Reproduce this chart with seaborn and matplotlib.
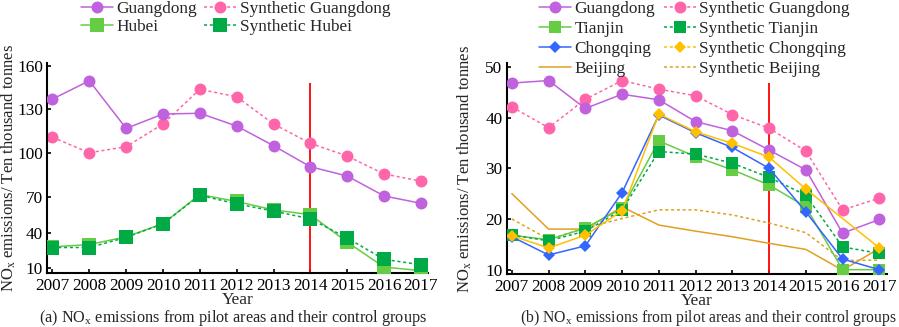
import numpy as np
import pandas as pd
import matplotlib
matplotlib.use("Agg")
import matplotlib.pyplot as plt
from matplotlib.lines import Line2D
from matplotlib.ticker import NullLocator
import seaborn as sns

years = list(range(2007, 2018))
year_labels = [str(y) for y in years]
policy_year = 2014

# (a) pilot areas Guangdong / Hubei and their synthetic controls
guangdong_a = [137.1, 149.8, 117.0, 126.8, 127.3, 118.6, 105.2, 90.7, 84.3, 70.5, 64.5]
syn_guangdong_a = [110.9, 100.4, 104.5, 120.0, 143.9, 138.7, 120.0, 106.8, 98.1, 85.7, 80.8]
hubei = [28.0, 30.0, 36.5, 47.5, 71.5, 66.0, 59.0, 55.0, 32.0, 11.0, 8.0]
syn_hubei = [27.5, 27.5, 36.0, 47.5, 71.0, 64.0, 58.0, 51.5, 35.5, 17.5, 13.0]
a_ticks = [10, 40, 70, 100, 130, 160]

# (b) Guangdong / Tianjin / Chongqing / Beijing
guangdong_b = [46.8, 47.3, 41.8, 44.6, 43.5, 39.2, 37.4, 33.6, 29.7, 17.2, 19.9]
syn_guangdong_b = [42.1, 38.0, 43.6, 47.3, 45.6, 44.3, 40.6, 37.9, 33.4, 21.8, 24.1]
tianjin = [16.8, 15.9, 18.2, 22.1, 35.4, 32.3, 29.7, 26.7, 22.4, 10.0, 10.0]
syn_tianjin = [16.8, 15.7, 17.6, 21.8, 33.3, 32.8, 31.0, 28.2, 24.7, 14.5, 13.2]
chongqing = [16.5, 12.9, 14.7, 25.2, 40.5, 37.0, 34.1, 30.0, 21.4, 12.1, 10.0]
syn_chongqing = [16.7, 14.3, 16.8, 21.6, 40.7, 37.2, 34.9, 32.2, 25.9, np.nan, 14.3]
beijing = [25.0, 18.0, 18.0, 22.4, 18.8, 17.6, 16.5, 15.2, 14.0, 9.9, 14.2]
syn_beijing = [20.0, 16.0, 18.2, 20.1, 21.8, 21.8, 20.8, 19.2, 17.3, 11.8, 11.9]
b_ticks = [10, 20, 30, 40, 50]

sns.set_style("ticks")
plt.rcParams["font.family"] = ["Liberation Serif", "DejaVu Serif"]
plt.rcParams["mathtext.fontset"] = "custom"
plt.rcParams["mathtext.rm"] = "Liberation Serif"
plt.rcParams["mathtext.it"] = "Liberation Serif:italic"
FS = 12.4
plt.rcParams["font.size"] = FS

PURPLE = "#c061dd"
PINK = "#ff66aa"
LGREEN = "#66cc44"
DGREEN = "#00aa44"
BLUE = "#3366ff"
YELLOW = "#ffc000"
ORANGE = "#e0a020"
DASH = (0, (2, 1.8))
LW = 1.1


def draw(ax, values, color, marker=None, ms=8.6, ls="-", z=2):
    d = pd.DataFrame({"year": years, "val": values}).dropna()
    sns.lineplot(data=d, x="year", y="val", ax=ax, color=color, marker=marker,
                 markersize=ms, markeredgewidth=0, linestyle=ls, linewidth=LW,
                 zorder=z)


def proxy(color, marker=None, ms=8.6, ls="-"):
    return Line2D([], [], color=color, marker=marker, markersize=ms,
                  markeredgewidth=0, linestyle=ls, linewidth=LW)


def style_axes(ax, ticks, xlab_y):
    sns.despine(ax=ax)
    for s in ["left", "bottom"]:
        ax.spines[s].set_linewidth(1.5)
        ax.spines[s].set_color("black")
    ax.set_xticks(years)
    ax.set_xticklabels(year_labels)
    ax.set_yticks(ticks)
    ax.set_yticklabels([str(t) for t in ticks])
    ax.yaxis.set_minor_locator(NullLocator())
    ax.tick_params(direction="in", length=3, width=1.2, labelsize=FS, colors="black")
    ax.tick_params(axis="x", pad=3.5)
    ax.tick_params(axis="y", pad=3)
    ax.set_xlim(2006.86, 2017.2)
    ax.set_xlabel("Year", fontsize=FS)
    ax.xaxis.set_label_coords(0.5, xlab_y)
    ax.set_ylabel(r"NO$_\mathrm{x}$ emissions/ Ten thousand tonnes", fontsize=12)


fig = plt.figure(figsize=(8.99, 3.27), dpi=100)
ax_a = fig.add_axes([0.0526, 0.1651, 0.4238, 0.6413])
ax_b = fig.add_axes([0.5636, 0.1621, 0.4227, 0.6443])

# panel (a) y axis in the reference is not evenly spaced: lower ticks are closer
seg_v = np.array([-200, 10, 40, 70, 100, 130, 160, 600])
seg_p = np.array([-249.3, 0, 35.6, 71.6, 115, 159, 202.3, 837.2])
ax_a.set_yscale("function", functions=(lambda v: np.interp(v, seg_v, seg_p),
                                        lambda p: np.interp(p, seg_p, seg_v)))

# ---- panel (a)
ax_a.vlines(policy_year, 6.0, 148.2, color="red", lw=1.3, zorder=1)
draw(ax_a, syn_guangdong_a, PINK, "o", ls=DASH, z=2)
draw(ax_a, guangdong_a, PURPLE, "o", z=3)
draw(ax_a, hubei, LGREEN, "s", ms=9.4, z=4)
draw(ax_a, syn_hubei, DGREEN, "s", ms=9.4, ls=DASH, z=5)
ax_a.set_ylim(6.0, 161.9)
style_axes(ax_a, a_ticks, -0.092)
ax_a.yaxis.set_label_coords(-0.078, 0.5)

h_a = [proxy(PURPLE, "o"), proxy(LGREEN, "s", 9.4),
       proxy(PINK, "o", ls=DASH), proxy(DGREEN, "s", 9.4, ls=DASH)]
l_a = ["Guangdong", "Hubei", "Synthetic Guangdong", "Synthetic Hubei"]
ax_a.legend(h_a, l_a, loc="upper left", bbox_to_anchor=(0.0901, 0.997),
            bbox_transform=fig.transFigure, ncol=2, frameon=False, borderpad=0,
            borderaxespad=0, handlelength=1.86, handletextpad=0.2,
            columnspacing=0.4, labelspacing=0.12, fontsize=FS)

# ---- panel (b)
ax_b.vlines(policy_year, 9.15, 46.8, color="red", lw=1.3, zorder=1)
draw(ax_b, beijing, ORANGE, z=2)
draw(ax_b, syn_beijing, ORANGE, ls=DASH, z=2)
draw(ax_b, syn_guangdong_b, PINK, "o", ls=DASH, z=3)
draw(ax_b, guangdong_b, PURPLE, "o", z=4)
draw(ax_b, tianjin, LGREEN, "s", ms=9, z=5)
draw(ax_b, syn_tianjin, DGREEN, "s", ms=9, ls=DASH, z=6)
draw(ax_b, chongqing, BLUE, "D", ms=6.3, z=7)
draw(ax_b, syn_chongqing, YELLOW, "D", ms=6.3, z=8)
ax_b.set_ylim(9.15, 50.7)
style_axes(ax_b, b_ticks, -0.0915)
ax_b.yaxis.set_label_coords(-0.086, 0.5)

h_b = [proxy(PURPLE, "o"), proxy(LGREEN, "s", 9), proxy(BLUE, "D", 6.3), proxy(ORANGE),
       proxy(PINK, "o", ls=DASH), proxy(DGREEN, "s", 9, ls=DASH),
       proxy(YELLOW, "D", 6.3, ls=DASH), proxy(ORANGE, ls=DASH)]
l_b = ["Guangdong", "Tianjin", "Chongqing", "Beijing",
       "Synthetic Guangdong", "Synthetic Tianjin", "Synthetic Chongqing", "Synthetic Beijing"]
ax_b.legend(h_b, l_b, loc="upper left", bbox_to_anchor=(0.5996, 0.997),
            bbox_transform=fig.transFigure, ncol=2, frameon=False, borderpad=0,
            borderaxespad=0, handlelength=1.86, handletextpad=0.2,
            columnspacing=0.5, labelspacing=0.22, fontsize=FS)

fig.text(233 / 899, 1 - 318.5 / 327,
         r"(a) NO$_\mathrm{x}$ emissions from pilot areas and their control groups",
         ha="center", va="center", fontsize=11.7)
fig.text(708.5 / 899, 1 - 318.5 / 327,
         r"(b) NO$_\mathrm{x}$ emissions from pilot areas and their control groups",
         ha="center", va="center", fontsize=11.3)

fig.savefig("out.png", dpi=100)
